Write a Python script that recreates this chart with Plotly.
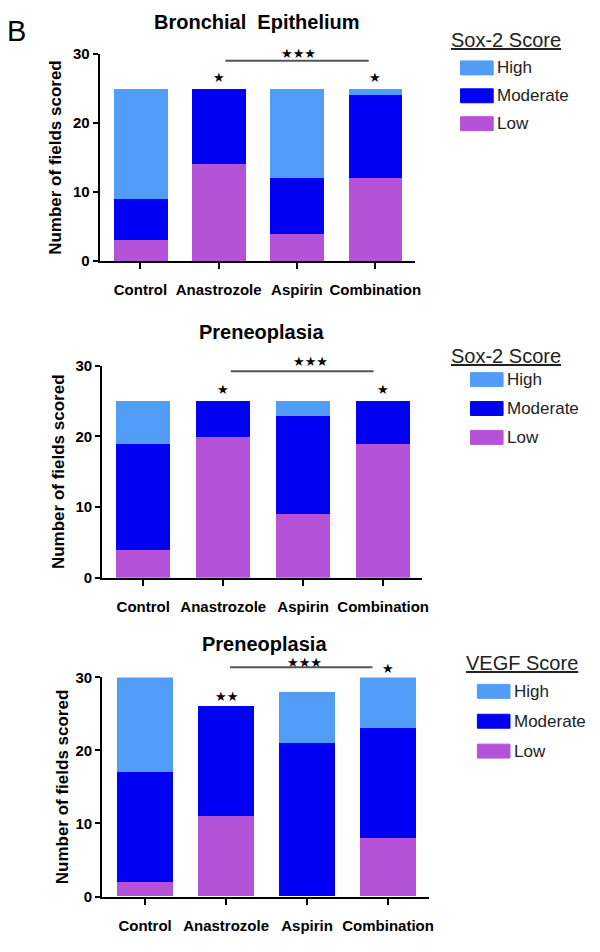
import plotly.graph_objects as go

# ---------------- data ----------------
categories = ["Control", "Anastrozole", "Aspirin", "Combination"]
score_levels = ["High", "Moderate", "Low"]

# Panel 1: Bronchial Epithelium, Sox-2 score
p1_low = [3, 14, 4, 12]
p1_moderate = [6, 11, 8, 12]
p1_high = [16, 0, 13, 1]

# Panel 2: Preneoplasia, Sox-2 score
p2_low = [4, 20, 9, 19]
p2_moderate = [15, 5, 14, 6]
p2_high = [6, 0, 2, 0]

# Panel 3: Preneoplasia, VEGF score
p3_low = [2, 11, 0, 8]
p3_moderate = [15, 15, 21, 15]
p3_high = [13, 0, 7, 7]

panel_titles = ["Bronchial\u00a0 Epithelium", "Preneoplasia", "Preneoplasia"]
legend_titles = ["Sox-2 Score", "Sox-2 Score", "VEGF Score"]
y_ticks = [0, 10, 20, 30]

# significance marks: (x, y, text) in data units
sig_marks = [
    [(1, 26.6, "★"), (3, 26.6, "★"), (2.02, 30.1, "★★★")],
    [(1, 26.6, "★"), (3, 26.6, "★"), (2.09, 30.6, "★★★")],
    [(1, 27.4, "★★"), (3, 31.2, "★"), (1.97, 32.0, "★★★")],
]
# significance bars: (x from, x to, y)
sig_lines = [(1.086, 2.917, 29.0), (1.094, 2.881, 29.2), (1.048, 2.807, 31.4)]

# ---------------- style ----------------
OFF = 8
W, H = 600 - OFF, 952 - OFF
FONT = "Liberation Sans, Arial, sans-serif"
C_HIGH = "#509cf6"
C_MOD = "#0000f2"
C_LOW = "#b452d8"
colors = {"High": C_HIGH, "Moderate": C_MOD, "Low": C_LOW}


def fx(x):
    return (x - OFF) / W


def fy(y):
    y = (y - 8) / 0.986
    return 1 - (y - OFF) / H


# page-pixel layout of each panel: (x0, x1, y_zero, y_thirty)
panel_px = [(100.8, 420.0, 261, 53), (103.3, 426.7, 579, 366), (103.3, 433.6, 899, 679)]
x_ranges = [[-0.52, 3.51], [-0.514, 3.483], [-0.53, 3.5]]
title_std = [7, 7, 3]
title_px = [(260, 21), (265, 332), (268, 645)]
legend_px = [  # title left, title y, swatch left, text left, entry ys
    (455, 39, 466, 502, [67, 95, 123]),
    (455, 356, 476, 512, [380, 409, 438]),
    (470, 665, 483, 519, [693, 723, 753]),
]

panels = [
    (p1_low, p1_moderate, p1_high),
    (p2_low, p2_moderate, p2_high),
    (p3_low, p3_moderate, p3_high),
]

fig = go.Figure()
annotations = []
shapes = []
xpos = list(range(len(categories)))

for i, (low, mod, high) in enumerate(panels):
    sfx = "" if i == 0 else str(i + 1)
    xa, ya = "x" + sfx, "y" + sfx
    for name, vals in (("Low", low), ("Moderate", mod), ("High", high)):
        fig.add_trace(go.Bar(
            x=xpos, y=vals, name=name, xaxis=xa, yaxis=ya,
            marker=dict(color=colors[name], line=dict(width=0)),
            width=0.685, showlegend=False,
        ))
    x0, x1, yz, yt = panel_px[i]
    xr = x_ranges[i]
    yr = [0, 30]
    fig.update_layout(**{
        "xaxis" + sfx: dict(
            domain=[fx(x0), fx(x1)], range=xr, anchor=ya,
            tickvals=xpos, ticktext=categories, ticks="outside",
            ticklen=6, tickwidth=2, tickcolor="black",
            showline=True, linecolor="black", linewidth=2,
            showgrid=False, zeroline=False, ticklabelstandoff=8,
            tickfont=dict(family=FONT, size=15, color="black", weight="bold"),
        ),
        "yaxis" + sfx: dict(
            domain=[fy(yz), fy(yt)], range=yr, anchor=xa,
            tickvals=y_ticks, ticks="outside", ticklen=5, tickwidth=2,
            tickcolor="black", showline=True, linecolor="black", linewidth=2,
            showgrid=False, zeroline=False,
            tickfont=dict(family=FONT, size=15, color="black", weight="bold"),
            title=dict(text="Number of fields scored", standoff=title_std[i],
                       font=dict(family=FONT, size=17, color="black", weight="bold")),
        ),
    })

    def dx(v, xr=xr):
        return (v - xr[0]) / (xr[1] - xr[0])

    def dy(v, yr=yr):
        return (v - yr[0]) / (yr[1] - yr[0])

    # panel title
    tx, ty = title_px[i]
    annotations.append(dict(
        x=fx(tx), y=fy(ty), xref="paper", yref="paper", text=panel_titles[i],
        showarrow=False, xanchor="center", yanchor="middle",
        font=dict(family=FONT, size=20, color="black", weight="bold"),
    ))
    # significance stars (domain refs so they are not hidden above the range)
    for (sx, sy, st) in sig_marks[i]:
        annotations.append(dict(
            x=dx(sx), y=dy(sy), xref=xa + " domain", yref=ya + " domain",
            text=st, showarrow=False, xanchor="center", yanchor="middle",
            font=dict(family="DejaVu Sans", size=13, color="black"),
        ))
    # significance line
    lx0, lx1, ly = sig_lines[i]
    shapes.append(dict(
        type="line", xref=xa + " domain", yref=ya + " domain",
        x0=dx(lx0), x1=dx(lx1), y0=dy(ly), y1=dy(ly),
        line=dict(color="#555555", width=2),
    ))
    # manual legend
    ltx, lty, sw, tl, ys = legend_px[i]
    annotations.append(dict(
        x=fx(ltx), y=fy(lty), xref="paper", yref="paper",
        text="<u>" + legend_titles[i] + "</u>", showarrow=False,
        xanchor="left", yanchor="middle", borderpad=0,
        font=dict(family=FONT, size=20, color="#222222"),
    ))
    for lvl, yy in zip(score_levels, ys):
        shapes.append(dict(
            type="rect", xref="paper", yref="paper",
            x0=fx(sw), x1=fx(sw + 33), y0=fy(yy + 7), y1=fy(yy - 7),
            fillcolor=colors[lvl], line=dict(width=1, color=colors[lvl]),
        ))
        annotations.append(dict(
            x=fx(tl), y=fy(yy), xref="paper", yref="paper", text=lvl,
            showarrow=False, xanchor="left", yanchor="middle", borderpad=0,
            font=dict(family=FONT, size=17, color="#222222"),
        ))

# panel letter
annotations.append(dict(
    x=fx(17), y=fy(30), xref="paper", yref="paper", text="B",
    showarrow=False, xanchor="center", yanchor="middle",
    font=dict(family=FONT, size=29, color="black"),
))

fig.update_layout(
    width=W, height=H, margin=dict(l=0, r=0, t=0, b=0),
    barmode="stack", bargap=0, plot_bgcolor="white", paper_bgcolor="white",
    annotations=annotations, shapes=shapes, showlegend=False,
    font=dict(family=FONT),
)

fig.write_html("out.html")
